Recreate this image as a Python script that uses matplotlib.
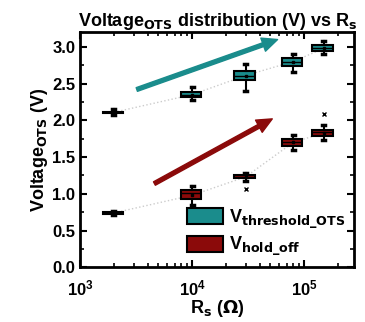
import numpy as np
import matplotlib.pyplot as plt
from matplotlib.patches import Patch

plt.rcParams['font.family'] = ['Liberation Sans', 'DejaVu Sans']
plt.rcParams['font.weight'] = 'bold'
plt.rcParams['mathtext.default'] = 'bf'

rs = [2e3, 1e4, 3e4, 8e4, 1.5e5]

# threshold: whisker low, q1, median, q3, whisker high, mean
th_lo = [2.07, 2.28, 2.40, 2.66, 2.90]
th_q1 = [2.10, 2.32, 2.55, 2.74, 2.94]
th_med = [2.11, 2.35, 2.61, 2.80, 2.99]
th_q3 = [2.12, 2.38, 2.67, 2.85, 3.03]
th_hi = [2.15, 2.45, 2.77, 2.91, 3.08]
th_mean = [2.11, 2.35, 2.61, 2.80, 2.98]
th_fl = [[], [], [], [], []]

ho_lo = [0.71, 0.85, 1.17, 1.60, 1.73]
ho_q1 = [0.73, 0.93, 1.21, 1.65, 1.79]
ho_med = [0.74, 1.01, 1.23, 1.70, 1.84]
ho_q3 = [0.75, 1.05, 1.25, 1.74, 1.87]
ho_hi = [0.77, 1.10, 1.29, 1.80, 1.93]
ho_mean = [0.74, 0.98, 1.23, 1.70, 1.83]
ho_fl = [[], [], [1.06], [], [2.08]]

teal = '#1a8c8c'
red = '#8b0a0a'


def stats(lo, q1, med, q3, hi, mean, fl):
    return [dict(whislo=a, q1=b, med=c, q3=d, whishi=e, mean=f, fliers=g)
            for a, b, c, d, e, f, g in zip(lo, q1, med, q3, hi, mean, fl)]


fig, ax = plt.subplots(figsize=(3.65, 3.22), dpi=100)
fig.subplots_adjust(left=0.22, right=0.97, bottom=0.17, top=0.9)

ax.plot(rs, th_mean, ':', color='#cccccc', lw=1, zorder=1)
ax.plot(rs, ho_mean, ':', color='#cccccc', lw=1, zorder=1)

w = [r * 0.42 for r in rs]
for st, col in [(stats(th_lo, th_q1, th_med, th_q3, th_hi, th_mean, th_fl), teal),
                (stats(ho_lo, ho_q1, ho_med, ho_q3, ho_hi, ho_mean, ho_fl), red)]:
    ax.bxp(st, positions=rs, widths=w, patch_artist=True, showmeans=True,
           boxprops=dict(facecolor=col, edgecolor='black', lw=1.5),
           medianprops=dict(color='black', lw=1),
           whiskerprops=dict(color='black', lw=1.5),
           capprops=dict(color='black', lw=2.5),
           meanprops=dict(marker='s', markersize=2, markerfacecolor='black',
                          markeredgecolor='black'),
           flierprops=dict(marker='x', markersize=3, markeredgecolor='black'),
           capwidths=[r * 0.06 for r in rs], manage_ticks=False, zorder=3)

ax.annotate('', xy=(5.8e4, 3.1), xytext=(3.2e3, 2.42),
            arrowprops=dict(color=teal, width=2.8, headwidth=10, headlength=11))
ax.annotate('', xy=(5.2e4, 2.02), xytext=(4.6e3, 1.14),
            arrowprops=dict(color=red, width=2.8, headwidth=10, headlength=11))

ax.set_xscale('log')
ax.set_xlim(1e3, 2.8e5)
ax.set_ylim(0, 3.2)
ax.set_yticks(np.arange(0, 3.01, 0.5))
ax.set_yticks(np.arange(0, 3.2, 0.25), minor=True)
ax.tick_params(which='both', direction='in', top=True, right=True, labelsize=12)
ax.tick_params(which='major', length=5, width=1.5)
ax.tick_params(which='minor', length=3, width=1.2)
ax.tick_params(axis='x', which='major', pad=8)
for s in ax.spines.values():
    s.set_linewidth(2)

ax.set_title('Voltage$_{OTS}$ distribution (V) vs R$_s$', fontsize=13, fontweight='bold', pad=4)
ax.set_xlabel('R$_s$ ($\\Omega$)', fontsize=13, fontweight='bold', labelpad=0)
ax.set_ylabel('Voltage$_{OTS}$ (V)', fontsize=13, fontweight='bold', labelpad=2)

handles = [Patch(facecolor=teal, edgecolor='black', lw=1.5),
           Patch(facecolor=red, edgecolor='black', lw=1.5)]
ax.legend(handles, ['V$_{threshold\\_OTS}$', 'V$_{hold\\_off}$'], loc='lower right',
          frameon=False, fontsize=13, handlelength=2.0, handleheight=1.0,
          borderaxespad=0.1, labelspacing=0.25, handletextpad=0.3)

fig.savefig('out.png', dpi=100)
